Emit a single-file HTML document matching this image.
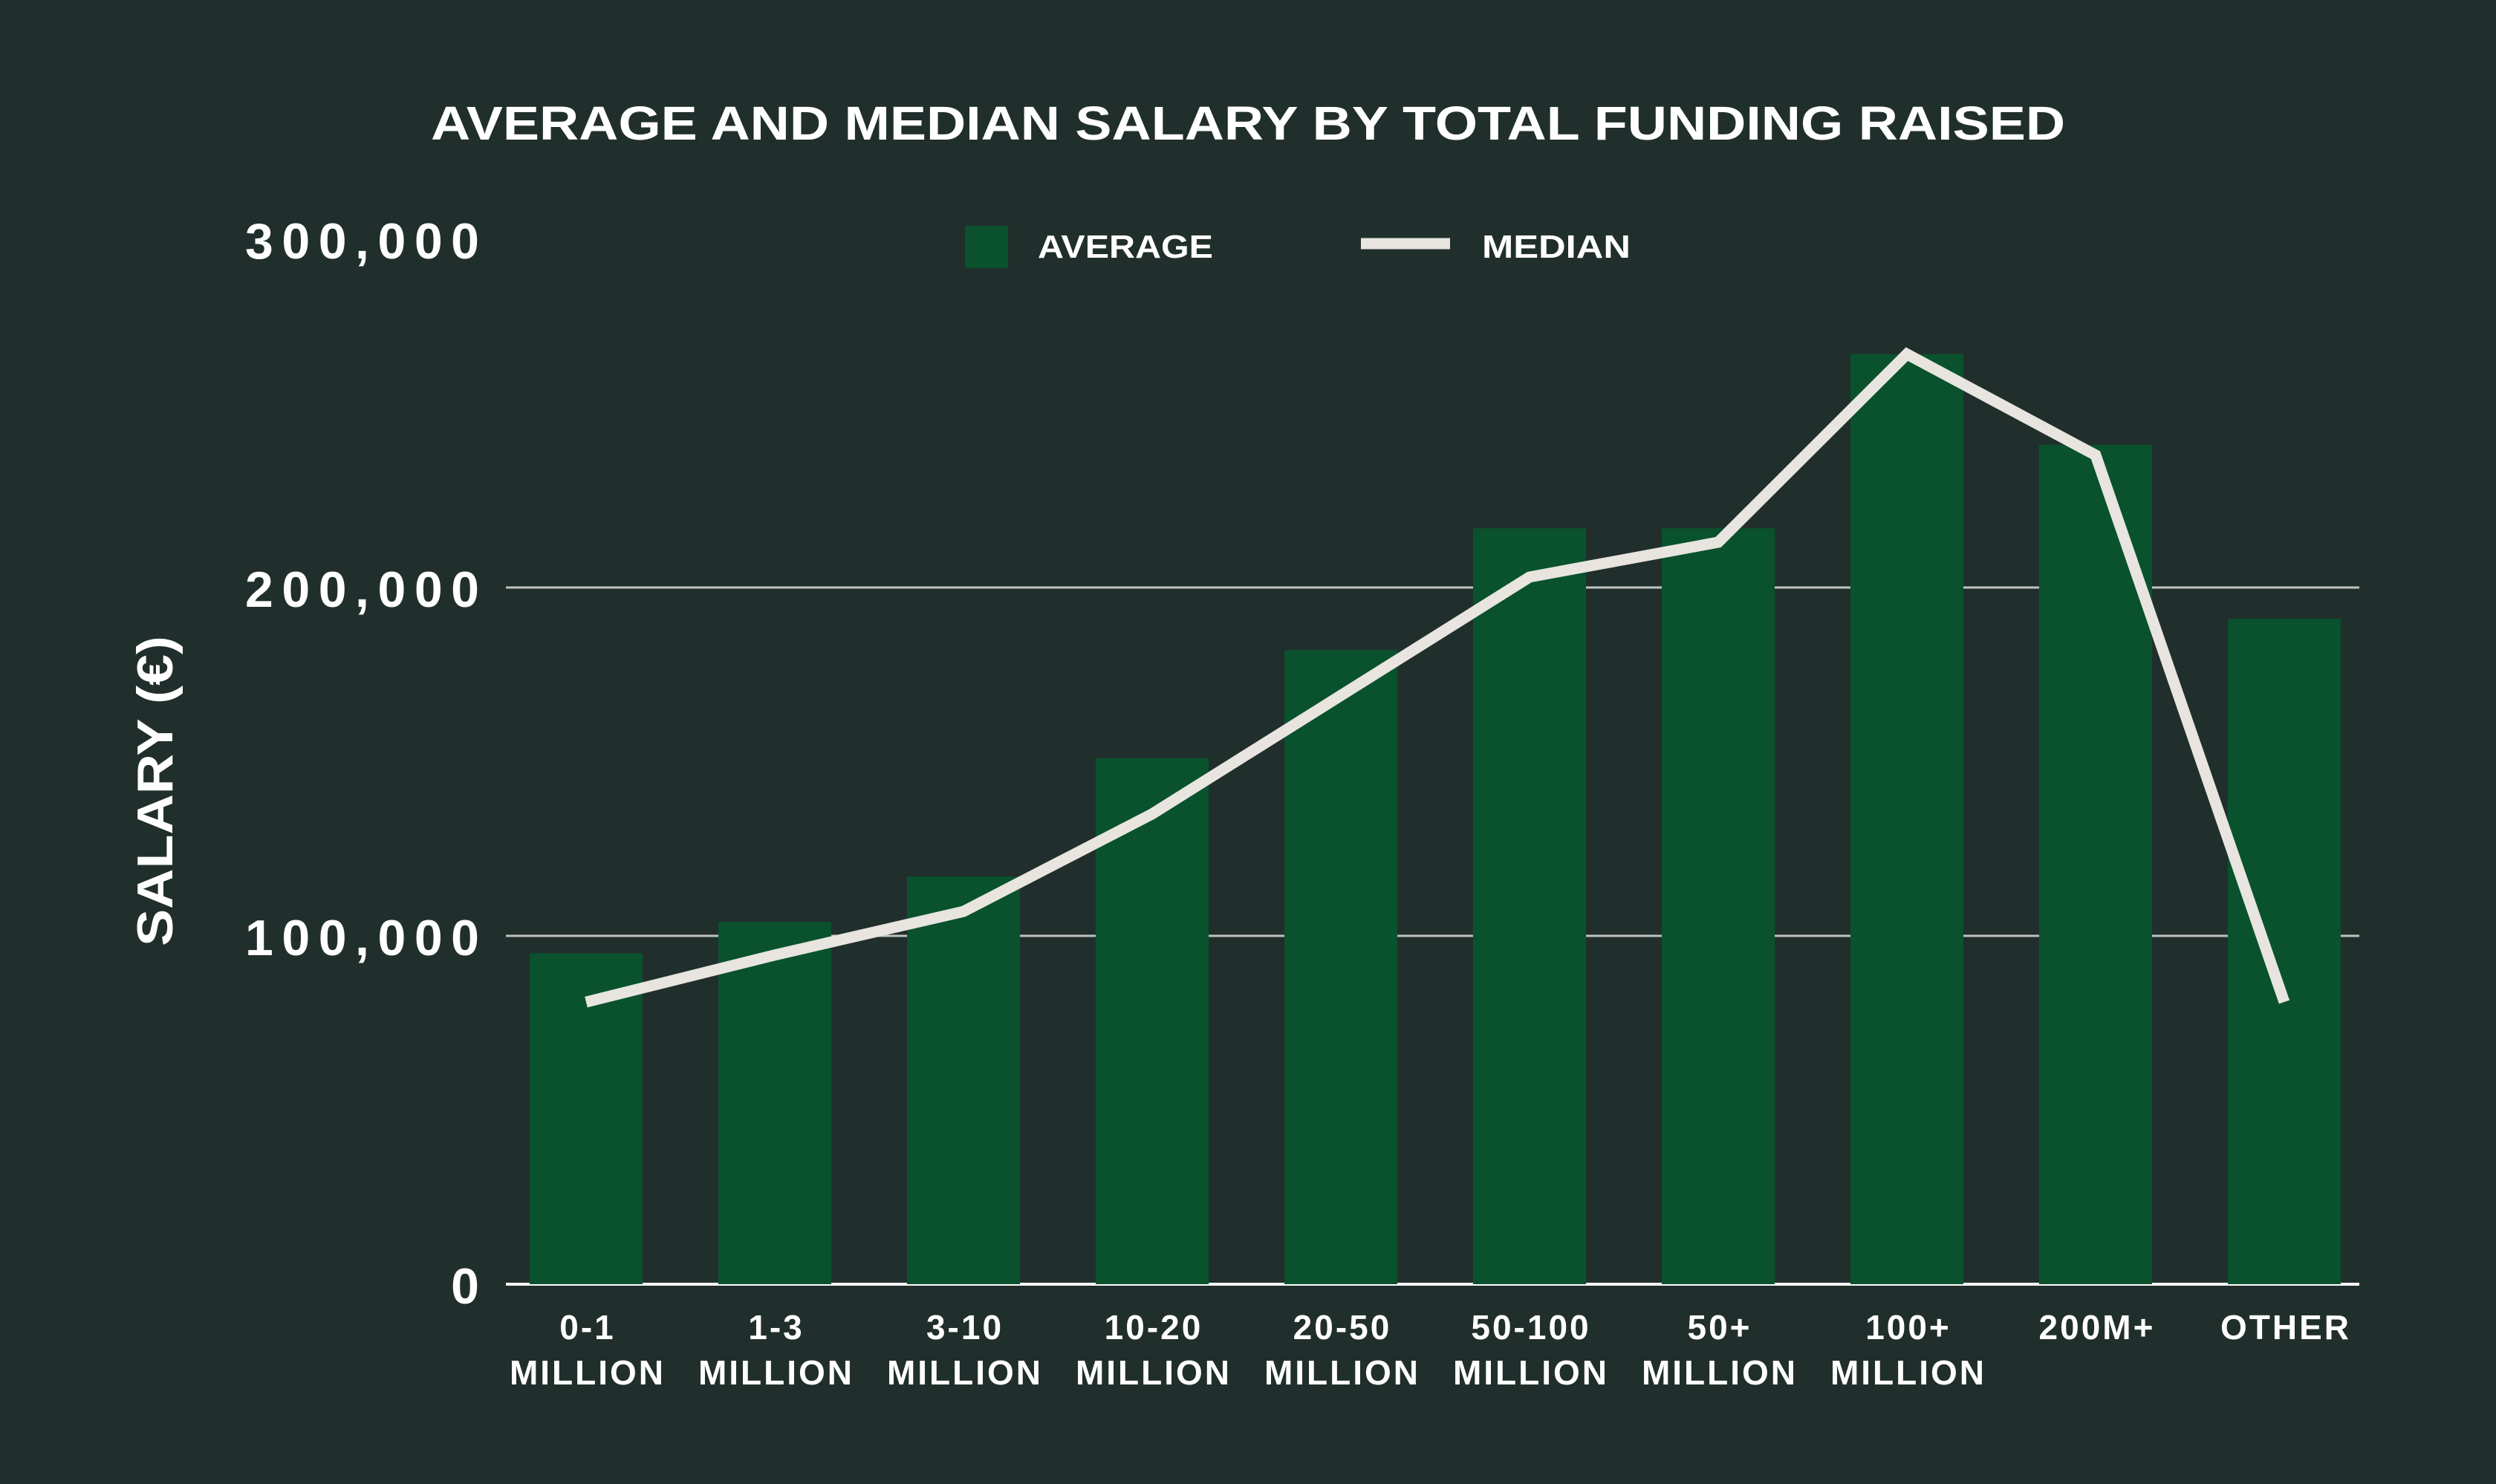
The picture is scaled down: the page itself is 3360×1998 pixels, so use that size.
<!DOCTYPE html>
<html><head><meta charset="utf-8"><style>
html,body{margin:0;padding:0;background:#212f2c;}
svg{display:block;font-family:"Liberation Sans",sans-serif;font-weight:bold;}
</style></head><body>
<svg id="chart" width="3360" height="1998" viewBox="0 0 3360 1998">
<rect width="3360" height="1998" fill="#212f2c"/>
<text x="1680" y="188" text-anchor="middle" fill="#ffffff" font-size="64" textLength="2200" lengthAdjust="spacingAndGlyphs">AVERAGE AND MEDIAN SALARY BY TOTAL FUNDING RAISED</text>
<g>
<rect x="1299" y="304" width="58" height="57" fill="#09522d"/>
<text x="1397" y="347" fill="#ffffff" font-size="44" textLength="236" lengthAdjust="spacingAndGlyphs">AVERAGE</text>
<line x1="1832" y1="328" x2="1952" y2="328" stroke="#e8e4df" stroke-width="15"/>
<text x="1995" y="347" fill="#ffffff" font-size="44" textLength="200" lengthAdjust="spacingAndGlyphs">MEDIAN</text>
</g>
<text transform="translate(232,1065) rotate(-90)" text-anchor="middle" fill="#ffffff" font-size="68" textLength="418" lengthAdjust="spacingAndGlyphs">SALARY (€)</text>
<g id="grid"></g><g id="bars"></g><g id="line"></g><g id="labels"></g>
</svg>
<script>
const categories = [["0-1","MILLION"],["1-3","MILLION"],["3-10","MILLION"],["10-20","MILLION"],["20-50","MILLION"],["50-100","MILLION"],["50+","MILLION"],["100+","MILLION"],["200M+"],["OTHER"]];
const averageValues = [95000,104000,117000,151000,182000,217000,217000,267000,241000,191000];
const medianValues = [81000,94500,107000,135000,169000,203000,213000,267000,238000,81000];
const yTicks = [0,100000,200000,300000];
const yTickLabels = ["0","100,000","200,000","300,000"];

const NS="http://www.w3.org/2000/svg";
const x0=681,x1=3176,yBase=1729,pxPer=469/100000;
const firstC=789,step=254;
const xC=i=>firstC+step*i;
const yS=v=>yBase-v*pxPer;
function mk(tag,attrs,parent){const e=document.createElementNS(NS,tag);for(const k in attrs)e.setAttribute(k,attrs[k]);parent.appendChild(e);return e;}
const grid=document.getElementById('grid'),bars=document.getElementById('bars'),line=document.getElementById('line'),labels=document.getElementById('labels');
yTicks.forEach((t,i)=>{
  if(t>0&&t<300000){const g=mk('line',{x1:x0,x2:x1,y1:yS(t),y2:yS(t),stroke:'#bfc3c1','stroke-width':3},grid);
  
  }
  const s=yTickLabels[i];
  const attrs={x:645,y:yS(t)+26,'text-anchor':'end',fill:'#ffffff','font-size':68};
  if(s.length>1){attrs.textLength=s.length*45;attrs.lengthAdjust='spacing';}
  const tx=mk('text',attrs,labels);
  tx.textContent=s;
  
  
});
const bw=152;
averageValues.forEach((v,i)=>{
  const r=mk('rect',{x:xC(i)-bw/2,y:yS(v),width:bw,height:yBase-yS(v),fill:'#09522d'},bars);
  
  
});
const base=mk('line',{x1:x0,x2:x1,y1:yBase,y2:yBase,stroke:'#ffffff','stroke-width':4},grid);


const pts=medianValues.map((v,i)=>xC(i)+','+yS(v)).join(' ');
const pl=mk('polyline',{points:pts,fill:'none',stroke:'#e8e4df','stroke-width':15,'stroke-linejoin':'miter'},line);


categories.forEach((c,i)=>{
  c.forEach((s,j)=>{
    const t=mk('text',{x:xC(i)+2,y:1803+j*61,'text-anchor':'middle',fill:'#ffffff','font-size':46,'letter-spacing':3},labels);
    t.textContent=s;
    
    
  });
});
</script>
</body></html>
